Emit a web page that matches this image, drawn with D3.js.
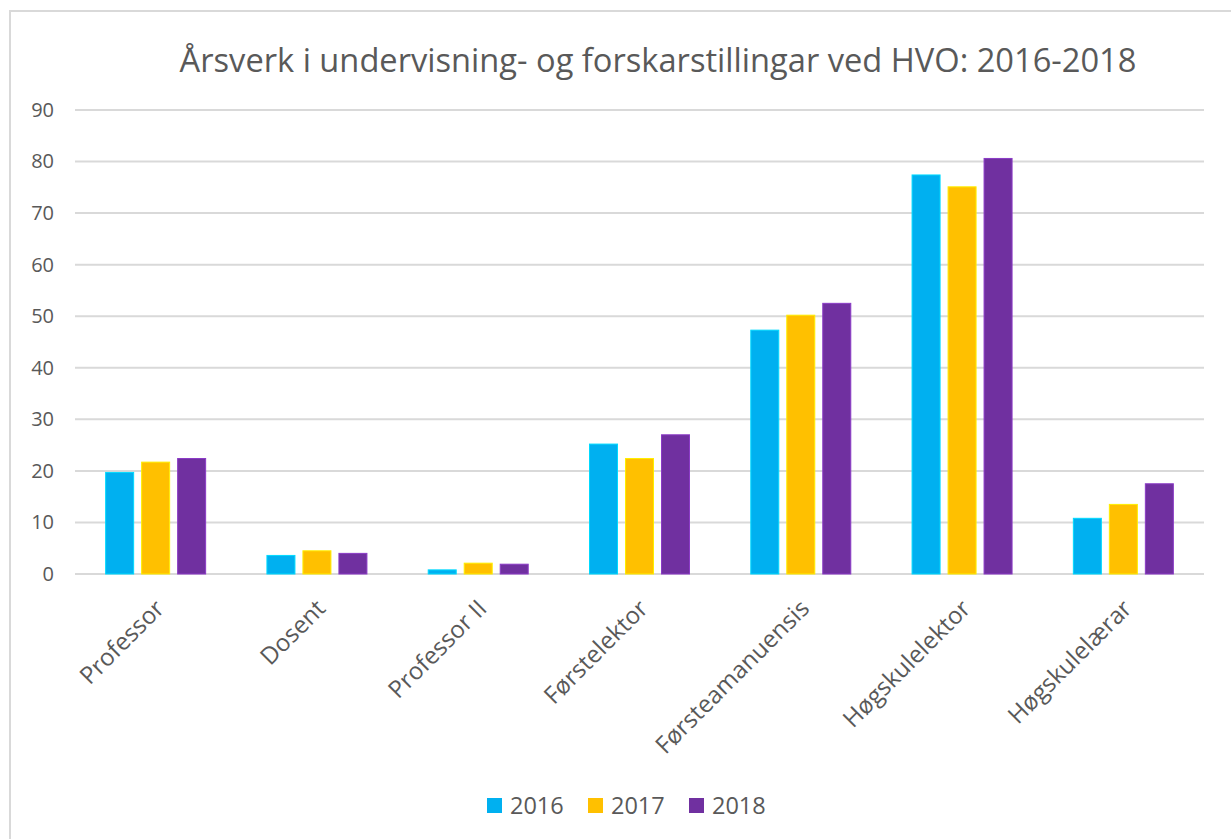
<!DOCTYPE html>
<html>
<head>
<meta charset="utf-8">
<script src="https://cdn.jsdelivr.net/npm/d3@7/dist/d3.min.js"></script>
<style>
  html, body { margin: 0; padding: 0; background: #fff; }
  svg { display: block; }
  text { font-family: "Open Sans", "Noto Sans", sans-serif; fill: #595959; }
</style>
</head>
<body>
<svg id="chart" width="1231" height="839"></svg>
<script>
const titleText = "Årsverk i undervisning- og forskarstillingar ved HVO: 2016-2018";
const categories = ["Professor", "Dosent", "Professor II", "Førstelektor", "Førsteamanuensis", "Høgskulelektor", "Høgskulelærar"];
const seriesNames = ["2016", "2017", "2018"];
const values2016 = [19.7, 3.6, 0.8, 25.2, 47.3, 77.4, 10.8];
const values2017 = [21.7, 4.5, 2.1, 22.4, 50.2, 75.1, 13.5];
const values2018 = [22.4, 4.0, 1.9, 27.0, 52.5, 80.6, 17.5];
const seriesColors = ["#00B0F0", "#FFC000", "#7030A0"];
const yTicks = [0, 10, 20, 30, 40, 50, 60, 70, 80, 90];

const seriesValues = [values2016, values2017, values2018];
const svg = d3.select("#chart");

// chart frame
svg.append("rect").attr("x", 10).attr("y", 11).attr("width", 1240).attr("height", 850)
  .attr("fill", "#fff").attr("stroke", "#d9d9d9").attr("stroke-width", 2);

const x0 = d3.scaleBand().domain(categories).range([75, 1204]).paddingInner(0.38).paddingOuter(0.19);
const x1 = d3.scaleBand().domain(seriesNames).range([0, x0.bandwidth()]).paddingInner(0.222);
const y = d3.scaleLinear().domain([0, 90]).range([574, 110]);

// gridlines
svg.append("g").selectAll("line").data(yTicks).join("line")
  .attr("x1", 75).attr("x2", 1204)
  .attr("y1", d => y(d)).attr("y2", d => y(d))
  .attr("stroke", "#d9d9d9").attr("stroke-width", 2);

// y axis labels
const yAxis = d3.axisLeft(y).tickValues(yTicks).tickSize(0).tickPadding(0);
const gy = svg.append("g").attr("transform", "translate(54,0)").call(yAxis);
gy.select(".domain").remove();
gy.selectAll("text").style("font-size", "20px").attr("fill", "#595959")
  .style("font-family", "'Open Sans', sans-serif");

// bars
const groups = svg.append("g").selectAll("g").data(categories).join("g")
  .attr("transform", d => `translate(${x0(d)},0)`);
groups.selectAll("rect").data((c, i) => seriesNames.map((s, j) => ({ s, j, v: seriesValues[j][i] })))
  .join("rect")
  .attr("x", d => x1(d.s))
  .attr("width", x1.bandwidth())
  .attr("y", d => y(d.v))
  .attr("height", d => y(0) - y(d.v))
  .attr("fill", d => seriesColors[d.j])
  .attr("stroke", d => d3.color(seriesColors[d.j]).brighter(0.6))
  .attr("stroke-width", 1);

// category labels
const xAxis = d3.axisBottom(x0).tickSize(0).tickPadding(0);
const gx = svg.append("g").attr("transform", "translate(0,584)").call(xAxis);
gx.select(".domain").remove();
gx.selectAll("text")
  .style("font-size", "24px").style("font-family", "'Open Sans', sans-serif")
  .attr("fill", "#595959")
  .attr("text-anchor", "end")
  .attr("dy", "0.35em")
  .attr("transform", "translate(4,20) rotate(-45)");

// title
const title = svg.append("text").attr("x", 658).attr("y", 72)
  .attr("text-anchor", "middle").style("font-size", "30px").text(titleText);
const tw = title.node().getComputedTextLength();
title.style("font-size", (30 * 957 / tw) + "px");

// legend
const legend = svg.append("g");
const lx = d3.scaleOrdinal().domain(seriesNames).range([487, 588, 689]);
const li = legend.selectAll("g").data(seriesNames).join("g")
  .attr("transform", d => `translate(${lx(d)},798)`);
li.append("rect").attr("width", 15).attr("height", 15).attr("fill", (d, i) => seriesColors[i]);
li.append("text").attr("x", 23).attr("y", 15.5).style("font-size", "23.5px").text(d => d);
</script>
</body>
</html>
